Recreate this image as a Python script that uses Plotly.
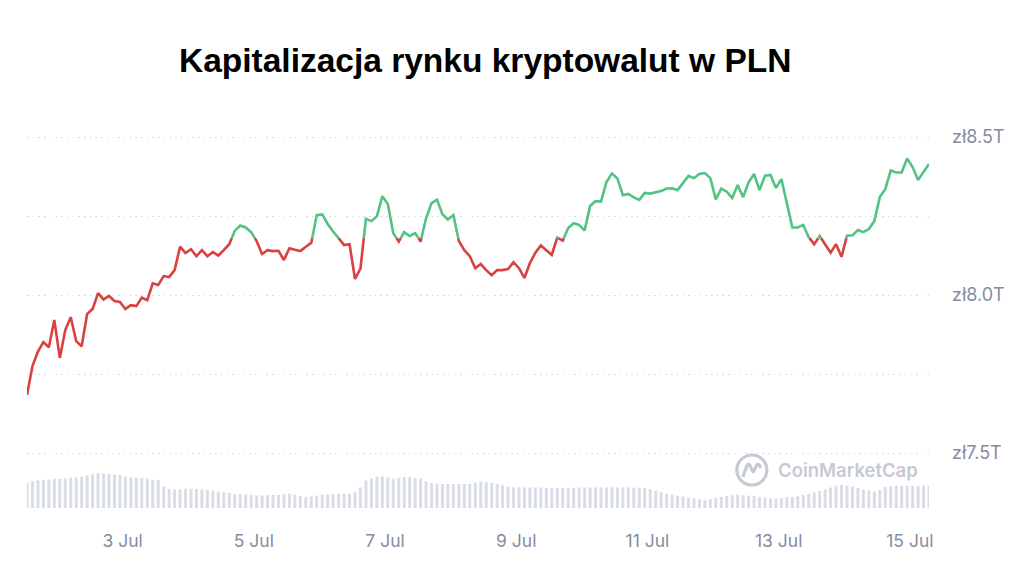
import pandas as pd
import plotly.graph_objects as go

# market cap in trillions of PLN, one reading every 2 hours from 1 Jul 13:00
START = "2024-07-01 13:00"
STEP = "2h"

cap_t = [
    7.684, 7.775, 7.821, 7.851, 7.835, 7.921, 7.801, 7.889, 7.930, 7.854,
    7.838, 7.940, 7.956, 8.006, 7.986, 7.997, 7.981, 7.978, 7.956, 7.968,
    7.965, 7.992, 7.984, 8.037, 8.032, 8.060, 8.057, 8.079, 8.153, 8.133,
    8.145, 8.123, 8.142, 8.123, 8.136, 8.125, 8.142, 8.161, 8.203, 8.220,
    8.214, 8.199, 8.171, 8.130, 8.142, 8.139, 8.140, 8.111, 8.148, 8.143,
    8.139, 8.153, 8.165, 8.253, 8.255, 8.225, 8.201, 8.180, 8.158, 8.161,
    8.051, 8.084, 8.241, 8.234, 8.249, 8.313, 8.288, 8.196, 8.169, 8.199,
    8.187, 8.196, 8.169, 8.243, 8.291, 8.302, 8.256, 8.239, 8.253, 8.171,
    8.142, 8.123, 8.085, 8.098, 8.079, 8.063, 8.079, 8.079, 8.082, 8.104,
    8.085, 8.054, 8.101, 8.134, 8.157, 8.142, 8.127, 8.182, 8.172, 8.212,
    8.227, 8.222, 8.204, 8.282, 8.297, 8.296, 8.358, 8.385, 8.369, 8.316,
    8.320, 8.309, 8.301, 8.323, 8.321, 8.326, 8.329, 8.337, 8.338, 8.332,
    8.354, 8.377, 8.370, 8.383, 8.386, 8.370, 8.303, 8.337, 8.327, 8.307,
    8.348, 8.310, 8.357, 8.383, 8.332, 8.378, 8.380, 8.339, 8.367, 8.292,
    8.214, 8.214, 8.222, 8.183, 8.161, 8.187, 8.161, 8.134, 8.161, 8.121,
    8.188, 8.189, 8.206, 8.199, 8.209, 8.234, 8.310, 8.335, 8.394, 8.388,
    8.388, 8.432, 8.405, 8.364, 8.388, 8.415,
]

# trading volume (bln zl), same time steps
volume_bln = [
    256, 270, 278, 282, 285, 290, 292, 295, 300, 306,
    312, 325, 338, 350, 345, 340, 335, 330, 315, 305,
    303, 300, 295, 283, 278, 215, 190, 182, 188, 193,
    192, 190, 186, 183, 172, 162, 158, 150, 140, 138,
    135, 130, 127, 126, 128, 130, 132, 137, 143, 130,
    120, 107, 115, 125, 133, 136, 140, 142, 143, 143,
    160, 205, 275, 295, 312, 316, 305, 292, 300, 310,
    308, 300, 293, 265, 250, 242, 240, 240, 240, 240,
    240, 240, 255, 266, 258, 250, 240, 228, 215, 208,
    206, 206, 206, 206, 205, 200, 200, 200, 200, 200,
    202, 205, 206, 206, 206, 206, 206, 206, 206, 206,
    206, 204, 202, 200, 190, 175, 160, 145, 132, 124,
    115, 105, 95, 88, 78, 88, 100, 110, 120, 128,
    133, 128, 123, 120, 112, 105, 98, 92, 100, 108,
    110, 118, 130, 143, 155, 170, 188, 205, 222, 233,
    225, 215, 200, 185, 175, 166, 180, 210, 218, 222,
    223, 223, 223, 223, 223, 223,
]

tick_days = ["2024-07-03", "2024-07-05", "2024-07-07", "2024-07-09",
             "2024-07-11", "2024-07-13", "2024-07-15"]
y_ticks = [7.5, 7.75, 8.0, 8.25, 8.5]
y_labels = ["zł7.5T", "", "zł8.0T", "", "zł8.5T"]

LEVEL = 8.18  # colour switch level
GREEN = "#52c285"
RED = "#d8413f"
GREY = "#858ca2"
MARK = "#c6cad4"

times = pd.date_range(START, periods=len(cap_t), freq=STEP)


def split_by_level(ts, vs, level):
    # insert crossing points so the two colours meet exactly at the level
    pts = [(ts[0], vs[0])]
    for i in range(len(vs) - 1):
        a, b = vs[i], vs[i + 1]
        if (a - level) * (b - level) < 0:
            f = (level - a) / (b - a)
            pts.append((ts[i] + (ts[i + 1] - ts[i]) * f, level))
        pts.append((ts[i + 1], b))
    out = {"up": ([], []), "down": ([], [])}
    prev = None
    for (t0, v0), (t1, v1) in zip(pts[:-1], pts[1:]):
        side = "up" if (v0 + v1) / 2 >= level else "down"
        xs, ys = out[side]
        if side != prev:
            if xs:
                xs.append(None)
                ys.append(None)
            xs.append(t0)
            ys.append(v0)
        xs.append(t1)
        ys.append(v1)
        prev = side
    return out


parts = split_by_level(list(times), cap_t, LEVEL)

fig = go.Figure()
fig.add_trace(go.Bar(
    x=times, y=volume_bln, yaxis="y2",
    marker=dict(color="#d9dde6", line=dict(width=0)),
    hoverinfo="skip", showlegend=False,
))
fig.add_trace(go.Scatter(
    x=parts["down"][0], y=parts["down"][1], mode="lines",
    line=dict(color=RED, width=2.6), showlegend=False,
))
fig.add_trace(go.Scatter(
    x=parts["up"][0], y=parts["up"][1], mode="lines",
    line=dict(color=GREEN, width=2.6), showlegend=False,
))

# watermark
fig.add_shape(type="circle", xref="paper", yref="paper",
              xsizemode="pixel", ysizemode="pixel",
              xanchor=0.8036, yanchor=0.098,
              x0=-15, x1=15, y0=-15, y1=15,
              line=dict(color=MARK, width=3.2))
fig.add_shape(type="path", xref="paper", yref="paper",
              xsizemode="pixel", ysizemode="pixel",
              xanchor=0.8036, yanchor=0.098,
              path="M -9,-7 L -5,4 Q -3,8 -1,3 L 0,0 Q 2,-4 3,1 L 5,5 Q 7,7 9,2",
              line=dict(color=MARK, width=3.2))
fig.add_annotation(text="CoinMarketCap", xref="paper", yref="paper",
                   x=0.8305, y=0.098, xanchor="left", yanchor="middle",
                   showarrow=False,
                   font=dict(family="Inter", size=18.5, color=MARK, weight=600))

# the page adds an 8px body margin, margins below account for it
fig.update_layout(
    width=1024, height=579,
    margin=dict(l=19, r=103, t=112, b=79),
    paper_bgcolor="white", plot_bgcolor="white",
    title=dict(text="<b>Kapitalizacja rynku kryptowalut w PLN</b>",
               x=0.466, xanchor="center", y=0.910, yanchor="middle",
               font=dict(family="Liberation Sans", size=33.5, color="black")),
    bargap=0.45,
    xaxis=dict(type="date", range=[times[0], times[-1]],
               tickvals=tick_days, tickformat="%-d %b",
               showgrid=False, zeroline=False, showline=False,
               ticks="", ticklabelstandoff=20,
               tickfont=dict(family="Inter", size=17.5, color=GREY)),
    yaxis=dict(range=[7.326, 8.554], side="right",
               tickvals=y_ticks, ticktext=y_labels,
               showgrid=True, gridcolor="#d6d9df", griddash="1.5px,4.2px", gridwidth=1,
               zeroline=False, showline=False, ticks="",
               ticklabelstandoff=22,
               tickfont=dict(family="Inter", size=18, color=GREY)),
    yaxis2=dict(overlaying="y", range=[0, 3880], visible=False),
    showlegend=False,
)

fig.write_html("out.html")
